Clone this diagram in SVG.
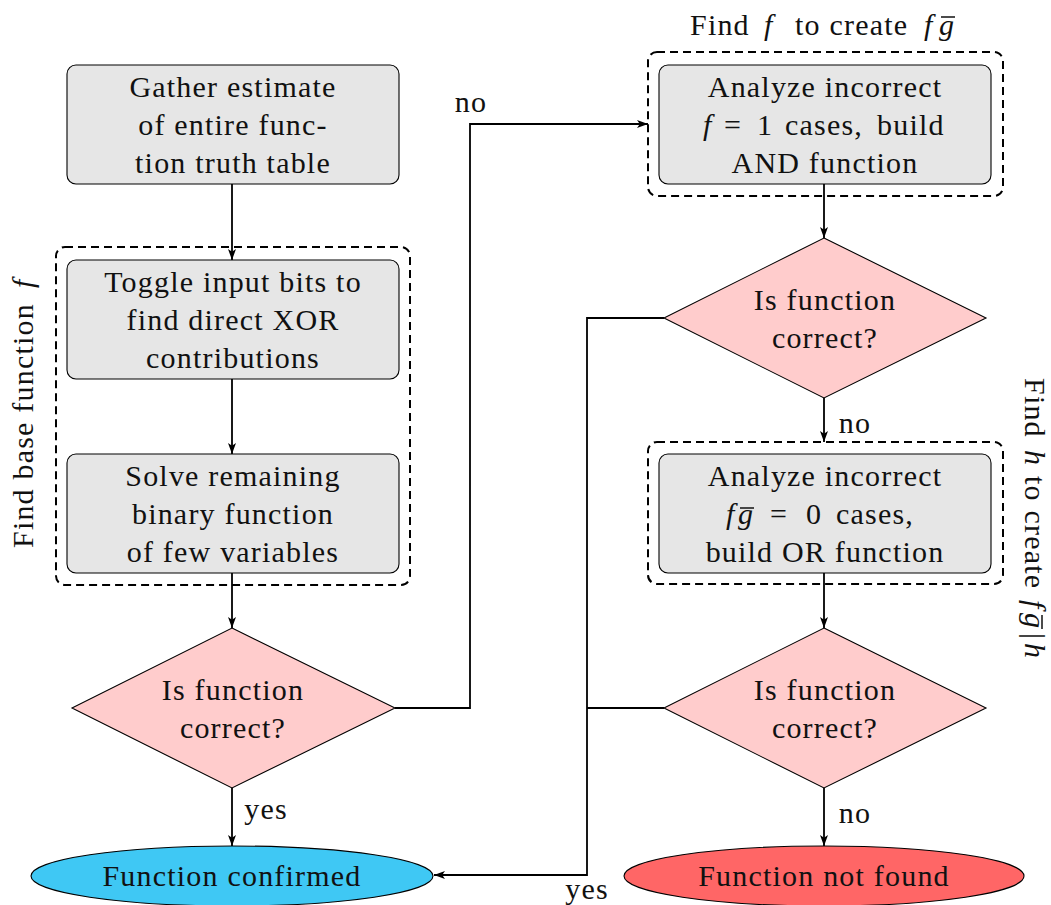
<svg xmlns="http://www.w3.org/2000/svg" width="1051" height="905" viewBox="0 0 1051 905">
<style>
text{font-family:"Liberation Serif",serif;font-size:30px;letter-spacing:1.2px;fill:#111;text-anchor:middle}
.box{fill:#e6e6e6;stroke:#000;stroke-width:1.1}
.dia{fill:#ffcccc;stroke:#000;stroke-width:1.1}
.dash{fill:none;stroke:#000;stroke-width:2;stroke-dasharray:8 5}
.c{fill:none;stroke:#000;stroke-width:1.8}
.bar{stroke:#111;stroke-width:1.5}
.m{font-style:italic}
.st{text-anchor:start}
</style>
<defs>
<marker id="ah" viewBox="0 0 11 8" refX="11" refY="4" markerWidth="11" markerHeight="8" markerUnits="userSpaceOnUse" orient="auto">
<path d="M0,0 L11,4 L0,8 L2.8,4 Z" fill="#000"/>
</marker>
</defs>
<rect width="1051" height="905" fill="#fff"/>

<g id="group-left">
<rect class="dash" x="56" y="247" width="354" height="338" rx="9"/>
<text font-family="Liberation Serif" font-size="30" class="st" transform="translate(33,0) rotate(-90)" x="-548" y="0">Find base function <tspan class="m" x="-288">f</tspan></text>
</g>
<g id="group-top">
<rect class="dash" x="648" y="52" width="355" height="144" rx="9"/>
<text font-family="Liberation Serif" font-size="30" class="st" y="35"><tspan x="690">Find</tspan><tspan class="m" x="764">f</tspan><tspan x="795">to create</tspan><tspan class="m" x="924">f</tspan><tspan class="m" x="939">g</tspan></text>
<line class="bar" x1="941" y1="17" x2="955" y2="17"/>
</g>
<g id="group-right">
<rect class="dash" x="648" y="442" width="355" height="142" rx="9"/>
<g transform="translate(1025,0) rotate(90)">
<text font-family="Liberation Serif" font-size="30" class="st" y="0"><tspan x="378">Find</tspan><tspan class="m" x="450">h</tspan><tspan x="476">to create</tspan><tspan class="m" x="600">f</tspan><tspan class="m" x="613">g</tspan><tspan x="633">|</tspan><tspan class="m" x="643">h</tspan></text>
<line class="bar" x1="615" y1="-17" x2="629" y2="-17"/>
</g>
</g>

<g id="connectors">
<line class="c" x1="232" y1="184" x2="232" y2="260" marker-end="url(#ah)"/>
<line class="c" x1="232" y1="379" x2="232" y2="454" marker-end="url(#ah)"/>
<line class="c" x1="232" y1="573" x2="232" y2="628" marker-end="url(#ah)"/>
<line class="c" x1="232" y1="788" x2="232" y2="846" marker-end="url(#ah)"/>
<polyline class="c" points="395,708 470,708 470,124 648,124" marker-end="url(#ah)"/>
<line class="c" x1="824" y1="184" x2="824" y2="238" marker-end="url(#ah)"/>
<line class="c" x1="824" y1="398" x2="824" y2="442" marker-end="url(#ah)"/>
<line class="c" x1="824" y1="573" x2="824" y2="628" marker-end="url(#ah)"/>
<line class="c" x1="824" y1="788" x2="824" y2="846" marker-end="url(#ah)"/>
<polyline class="c" points="664,318 587,318 587,875 434,875" marker-end="url(#ah)"/>
<line class="c" x1="664" y1="708" x2="587" y2="708"/>
<text font-family="Liberation Serif" font-size="30" x="266" y="819">yes</text>
<text font-family="Liberation Serif" font-size="30" x="471" y="112">no</text>
<text font-family="Liberation Serif" font-size="30" x="855" y="433">no</text>
<text font-family="Liberation Serif" font-size="30" x="855" y="823">no</text>
<text font-family="Liberation Serif" font-size="30" x="587" y="899">yes</text>
</g>

<g id="gather">
<rect class="box" x="67" y="65" width="332" height="119" rx="9"/>
<text font-family="Liberation Serif" font-size="30" x="233" y="97">Gather estimate</text>
<text font-family="Liberation Serif" font-size="30" x="233" y="135">of entire func-</text>
<text font-family="Liberation Serif" font-size="30" x="233" y="173">tion truth table</text>
</g>
<g id="toggle">
<rect class="box" x="67" y="260" width="332" height="119" rx="9"/>
<text font-family="Liberation Serif" font-size="30" x="233" y="292">Toggle input bits to</text>
<text font-family="Liberation Serif" font-size="30" x="233" y="330">find direct XOR</text>
<text font-family="Liberation Serif" font-size="30" x="233" y="368">contributions</text>
</g>
<g id="solve">
<rect class="box" x="67" y="454" width="332" height="119" rx="9"/>
<text font-family="Liberation Serif" font-size="30" x="233" y="486">Solve remaining</text>
<text font-family="Liberation Serif" font-size="30" x="233" y="524">binary function</text>
<text font-family="Liberation Serif" font-size="30" x="233" y="562">of few variables</text>
</g>
<g id="check1">
<polygon class="dia" points="232,628 395,708 232,788 72,708"/>
<text font-family="Liberation Serif" font-size="30" x="233" y="700">Is function</text>
<text font-family="Liberation Serif" font-size="30" x="233" y="738">correct?</text>
</g>
<g id="confirmed">
<ellipse cx="232" cy="876" rx="201" ry="30" fill="#3fc8f4" stroke="#000" stroke-width="1.1"/>
<text font-family="Liberation Serif" font-size="30" x="232" y="886">Function confirmed</text>
</g>
<g id="and">
<rect class="box" x="659" y="65" width="332" height="119" rx="9"/>
<text font-family="Liberation Serif" font-size="30" x="825" y="97">Analyze incorrect</text>
<text font-family="Liberation Serif" font-size="30" class="st" y="135"><tspan class="m" x="703">f</tspan><tspan x="724">=</tspan><tspan x="757">1</tspan><tspan x="785">cases,</tspan><tspan x="877">build</tspan></text>
<text font-family="Liberation Serif" font-size="30" x="825" y="173">AND function</text>
</g>
<g id="check2">
<polygon class="dia" points="824,238 986,318 824,398 664,318"/>
<text font-family="Liberation Serif" font-size="30" x="825" y="310">Is function</text>
<text font-family="Liberation Serif" font-size="30" x="825" y="348">correct?</text>
</g>
<g id="or">
<rect class="box" x="659" y="454" width="332" height="119" rx="9"/>
<text font-family="Liberation Serif" font-size="30" x="825" y="486">Analyze incorrect</text>
<text font-family="Liberation Serif" font-size="30" class="st" y="524"><tspan class="m" x="726">f</tspan><tspan class="m" x="738">g</tspan><tspan x="770">=</tspan><tspan x="806">0</tspan><tspan x="836">cases,</tspan></text>
<line class="bar" x1="740" y1="508" x2="754" y2="508"/>
<text font-family="Liberation Serif" font-size="30" x="825" y="562">build OR function</text>
</g>
<g id="check3">
<polygon class="dia" points="824,628 986,708 824,788 664,708"/>
<text font-family="Liberation Serif" font-size="30" x="825" y="700">Is function</text>
<text font-family="Liberation Serif" font-size="30" x="825" y="738">correct?</text>
</g>
<g id="notfound">
<ellipse cx="824" cy="876" rx="200" ry="30" fill="#ff6666" stroke="#000" stroke-width="1.1"/>
<text font-family="Liberation Serif" font-size="30" x="824" y="886">Function not found</text>
</g>
</svg>
